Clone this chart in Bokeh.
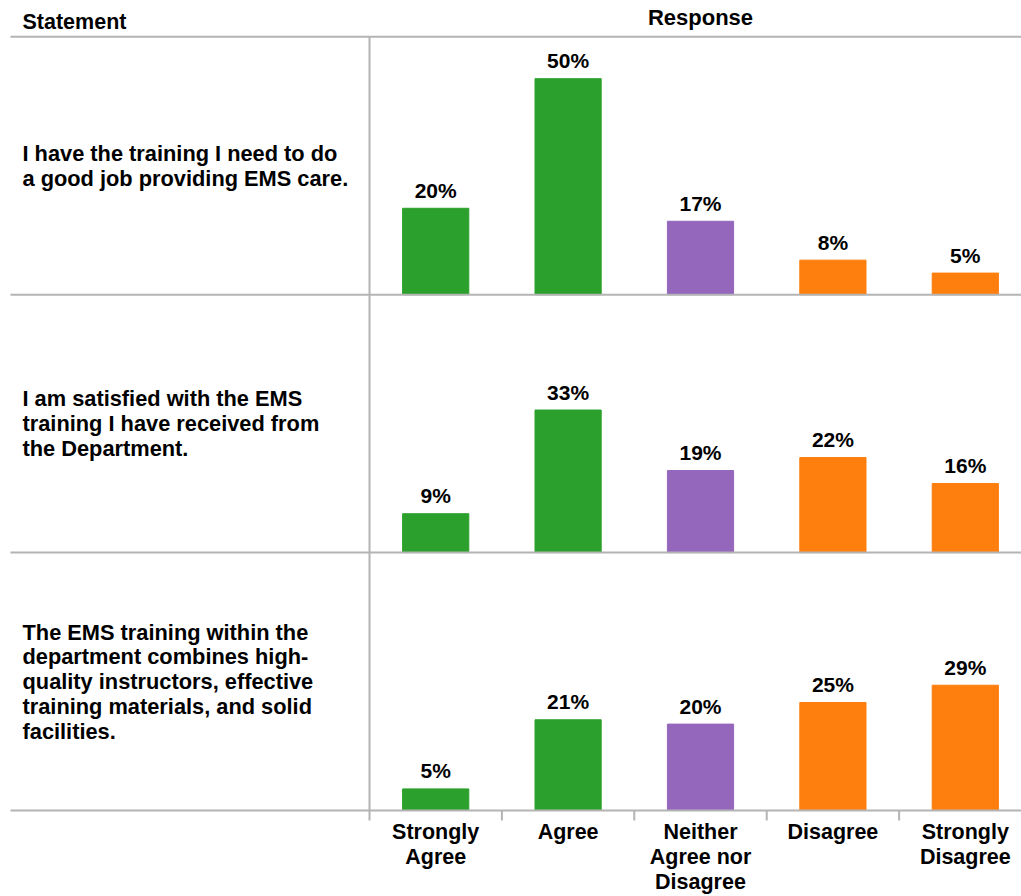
from bokeh.plotting import figure
from bokeh.models import ColumnDataSource, Range1d
from bokeh.core.properties import value
from bokeh.embed import file_html
from bokeh.resources import INLINE

# ---- data ----
categories = ["Strongly Agree", "Agree", "Neither Agree nor Disagree", "Disagree", "Strongly Disagree"]
category_labels = ["Strongly\nAgree", "Agree", "Neither\nAgree nor\nDisagree", "Disagree", "Strongly\nDisagree"]
statements = [
    "I have the training I need to do\na good job providing EMS care.",
    "I am satisfied with the EMS\ntraining I have received from\nthe Department.",
    "The EMS training within the\ndepartment combines high-\nquality instructors, effective\ntraining materials, and solid\nfacilities.",
]
training_needed = [20, 50, 17, 8, 5]
satisfied = [9, 33, 19, 22, 16]
combines_quality = [5, 21, 20, 25, 29]
series = [training_needed, satisfied, combines_quality]
bar_colors = ["#2ca02c", "#2ca02c", "#9467bd", "#ff7f0e", "#ff7f0e"]

# ---- layout constants ----
W, H = 1021, 896
X0 = 369.0      # px of the response area left edge
CW = 132.4      # px per category
Y0 = 810.0      # px of bottom baseline
PX = 4.32       # px per percent
ROW = 59.7      # percent units per row
FONT = "Liberation Sans"
GRAY = "#b4b4b4"

def xd(px):
    return (px - X0) / CW

def yd(py):
    return (Y0 - py) / PX

p = figure(width=W, height=H, output_backend="svg", toolbar_location=None,
           x_range=Range1d(xd(0), xd(W)), y_range=Range1d(yd(H), yd(0)),
           x_axis_type=None, y_axis_type=None, min_border=0)
p.outline_line_color = None
p.xgrid.visible = False
p.ygrid.visible = False

# bars
xs, tops, bottoms, cols, labels, label_y = [], [], [], [], [], []
for r, vals in enumerate(series):
    base = (2 - r) * ROW
    for i, v in enumerate(vals):
        xs.append(i + 0.5)
        bottoms.append(base)
        tops.append(base + v)
        label_y.append(base + v + 18 / PX)
        cols.append(bar_colors[i])
        labels.append(f"{v}%")
src = ColumnDataSource(dict(x=xs, top=tops, bottom=bottoms, color=cols, label=labels, ly=label_y))
p.vbar(x="x", top="top", bottom="bottom", width=0.5, color="color", source=src)
p.text(x="x", y="ly", text="label", source=src, text_align="center",
       text_baseline="middle", text_font=value(FONT),
       text_font_style="bold", text_font_size="21px", text_color="#000000")

# grid lines
hy = [0, ROW, 2 * ROW, 3 * ROW]
p.segment(x0=[xd(10)] * 4, x1=[xd(W)] * 4, y0=hy, y1=hy, line_color=GRAY, line_width=2)
p.segment(x0=[0], x1=[0], y0=[3 * ROW], y1=[yd(820)], line_color=GRAY, line_width=2)
tx = [1, 2, 3, 4]
p.segment(x0=tx, x1=tx, y0=[0] * 4, y1=[yd(820)] * 4, line_color=GRAY, line_width=2)

# headers
p.text(x=[xd(22)], y=[yd(21)], text=["Statement"], text_align="left", text_baseline="middle",
       text_font=value(FONT), text_font_style="bold", text_font_size="21.5px", text_color="#000000")
p.text(x=[2.5], y=[yd(17)], text=["Response"], text_align="center", text_baseline="middle",
       text_font=value(FONT), text_font_style="bold", text_font_size="22px", text_color="#000000")

# statements
sy = [(2 - r) * ROW + ROW / 2 for r in range(3)]
p.text(x=[xd(22)] * 3, y=sy, text=statements, text_align="left", text_baseline="middle",
       text_font=value(FONT), text_font_style="bold", text_font_size="21.8px",
       text_line_height=0.99, text_color="#000000")

# category labels
p.text(x=[i + 0.5 for i in range(5)], y=[yd(819)] * 5, text=category_labels,
       text_align="center", text_baseline="top", text_font=value(FONT),
       text_font_style="bold", text_font_size="21.5px", text_line_height=1.06,
       text_color="#000000")

open("out.html", "w").write(file_html(p, INLINE))
